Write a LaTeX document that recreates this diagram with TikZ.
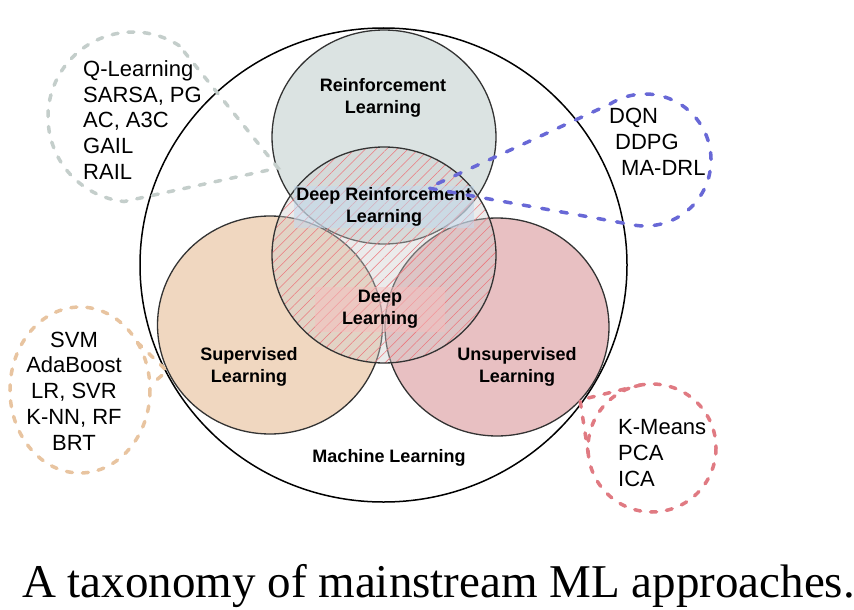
\documentclass[tikz,border=0pt]{standalone}
\usepackage{fontspec}
\setmainfont{Liberation Sans}
\newfontfamily\capfont{Liberation Serif}
\usepackage{tikz}
\usetikzlibrary{patterns.meta, calc}
\definecolor{rlgrey}{RGB}{219,227,226}
\definecolor{suptan}{RGB}{240,215,192}
\definecolor{unspink}{RGB}{232,192,194}
\definecolor{dlgrey}{RGB}{205,205,205}
\definecolor{hatchred}{RGB}{236,120,126}
\definecolor{drlblue}{RGB}{196,218,238}
\definecolor{dlpink}{RGB}{246,190,190}
\definecolor{bubgrey}{RGB}{196,206,203}
\definecolor{bubblue}{RGB}{104,104,214}
\definecolor{bubtan}{RGB}{232,196,160}
\definecolor{bubpink}{RGB}{224,122,130}

\tikzset{
    venn/.style={draw=black!80, line width=1.3pt},
    biglabel/.style={font=\fontsize{18}{21.5}\selectfont\bfseries, align=center, inner sep=2pt},
    listtext/.style={font=\fontsize{22}{25.7}\selectfont, inner sep=0pt},
    bubble/.style={line width=3.5pt, line cap=round, dash pattern=on 6pt off 10pt},
}

\begin{document}
\begin{tikzpicture}[x=1pt, y=-1pt]
    \useasboundingbox (0,0) rectangle (854,610);
    \coordinate (ml) at (383.5,265);
    \coordinate (rl) at (384,137);
    \coordinate (dl) at (384,255);
    \coordinate (sup) at (270,325);
    \coordinate (uns) at (497,327);
    \draw[black, line width=1.5pt] (ml) ellipse (243.5 and 237); % machine learning
    \filldraw[venn, fill=suptan] (sup) ellipse (112.5 and 109);
    \filldraw[venn, fill=unspink] (uns) ellipse (112 and 109);
    \filldraw[venn, fill=rlgrey] (rl) ellipse (112 and 107);
    % deep learning: see-through grey with red hatching
    \fill[dlgrey, fill opacity=0.4] (dl) ellipse (112 and 108);
    \fill[pattern={Lines[angle=45, distance=7.5pt, line width=0.55pt]}, pattern color=hatchred] (dl) ellipse (112 and 108);
    \draw[venn] (dl) ellipse (112 and 108);

    \node[biglabel] (rl-lab) at (383,98) {Reinforcement\\Learning};
    \node[biglabel, fill=drlblue, fill opacity=0.55, text opacity=1] (drl-lab) at (384,207) {Deep Reinforcement\\Learning};
    \node[biglabel, fill=dlpink, fill opacity=0.5, text opacity=1, minimum width=130pt, minimum height=45pt] (dl-lab) at (380,309) {Deep\\Learning};
    \node[biglabel] (sup-lab) at (249,367) {Supervised\\Learning};
    \node[biglabel] (uns-lab) at (517,367) {Unsupervised\\Learning};
    \node[biglabel] (ml-lab) at (389,458) {Machine Learning};

    % dashed call-outs with the methods
    \coordinate (gb) at (133,117);
    \coordinate (bb) at (645,160);
    \coordinate (tb) at (80,390);
    \coordinate (pb) at (652,448);
    \draw[bubble, bubgrey] (gb) ++(-57:85) arc[start angle=-57, end angle=-264, radius=85] -- (278,168) -- cycle;
    \draw[bubble, bubblue, dash pattern=on 7pt off 12pt] (bb) ++(238:66) arc[start angle=238, end angle=463, radius=66] -- (428,188) -- cycle;
    \draw[bubble, bubtan] (tb) ellipse (70 and 83);
    \draw[bubble, bubtan] ($(tb)+(-35:70 and 83)$) -- (167,371) -- ($(tb)+(-3:70 and 83)$);
    \draw[bubble, bubpink] (pb) circle (64);
    \draw[bubble, bubpink] ($(pb)+(-100:64)$) -- (580,400) -- ($(pb)+(175:64)$);

    \node[listtext, anchor=west, align=left] (rl-list) at (83,120) {Q-Learning\\SARSA, PG\\AC, A3C\\GAIL\\RAIL};
    \node[listtext, anchor=west, align=left] (drl-list) at (609,142) {DQN\\\hspace*{6pt}DDPG\\\hspace*{12pt}MA-DRL};
    \node[listtext, align=center] (sup-list) at (74,391) {SVM\\AdaBoost\\LR, SVR\\K-NN, RF\\BRT};
    \node[listtext, anchor=west, align=left] (uns-list) at (618,453) {K-Means\\PCA\\ICA};

    \node[anchor=base west, inner sep=0pt, font=\capfont\fontsize{47}{50}\selectfont] (caption) at (22,597) {A taxonomy of mainstream ML approaches.};
\end{tikzpicture}
\end{document}
